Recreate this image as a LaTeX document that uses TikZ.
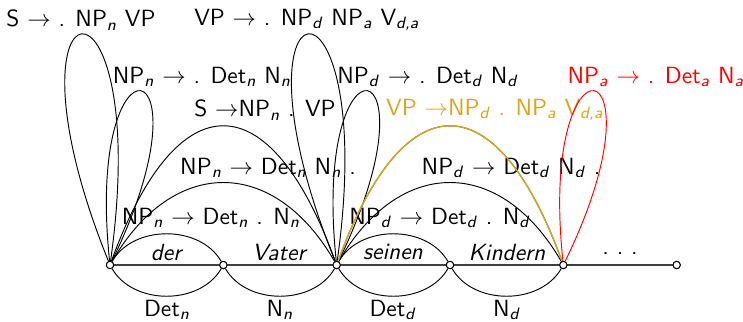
\documentclass[tikz,border=0pt]{standalone}
\newcommand{\ix}[1]{\textsubscript{\textit{#1}}}
\newcommand{\arr}{$\rightarrow$}
\definecolor{goldenrod}{RGB}{218,165,32}

\begin{document}
\begin{tikzpicture}[font=\sffamily,
  vertex/.style={circle, draw, fill=white, inner sep=0pt, minimum size=1.1mm},
  tall loop/.style={out=112, in=82, min distance=4.74cm},
  short loop/.style={out=96, in=64, min distance=3.6cm},
  wide arc/.style={bend left=70, looseness=2.2}]

\useasboundingbox (-1.65,-0.84) rectangle (9.495,3.975);

% chart vertices
\node[vertex] (n0) at (0,0) {};
\node[vertex] (n1) at (1.7,0) {};
\node[vertex] (n2) at (3.4,0) {};
\node[vertex] (n3) at (5.1,0) {};
\node[vertex] (n4) at (6.8,0) {};
\node[vertex] (n5) at (8.5,0) {};

\begin{scope}
\draw[semithick, black!75] (n0) -- (n1) -- (n2) -- (n3) -- (n4) -- (n5);

% words
\node (w1) at (0.855,0.195) {\textit{der}};
\node (w2) at (2.55,0.195) {\textit{Vater}};
\node (w3) at (4.245,0.195) {\textit{seinen}};
\node (w4) at (5.955,0.195) {\textit{Kindern}};
\node (w5) at (7.65,0.17) {.\ .\ .};

% lexical edges
\draw (n0) to[bend right=60] (n1);
\draw (n1) to[bend right=60] (n2);
\draw (n2) to[bend right=60] (n3);
\draw (n3) to[bend right=60] (n4);
\node (l1) at (0.855,-0.675) {Det\ix{n}};
\node (l2) at (2.55,-0.675) {N\ix{n}};
\node (l3) at (4.245,-0.675) {Det\ix{d}};
\node (l4) at (5.955,-0.675) {N\ix{d}};

\draw (n0) to[bend left=60] (n1);
\draw (n2) to[bend left=60] (n3);

% edges over NP_n
\draw (n0) to[bend left=60, looseness=1.4] (n2);
\draw (n0) to[wide arc] (n2);
\draw (n0) to[tall loop] (n0);
\draw (n0) to[short loop] (n0);
\node (e1) at (1.515,0.705) {NP\ix{n} \arr{} Det\ix{n} . N\ix{n}};
\node (e2) at (2.37,1.455) {NP\ix{n} \arr{} Det\ix{n} N\ix{n} .};
\node (e3) at (2.325,2.325) {S \arr{}NP\ix{n} . VP};
\node (e4) at (1.38,2.82) {NP\ix{n} \arr{} . Det\ix{n} N\ix{n}};
\node (e5) at (-0.435,3.675) {S \arr{} . NP\ix{n} VP};

% edges over NP_d
\draw (n2) to[bend left=60, looseness=1.4] (n4);
\draw (n2) to[wide arc] (n4);
\draw (n2) to[tall loop] (n2);
\draw (n2) to[short loop] (n2);
\node (e6) at (4.95,0.705) {NP\ix{d} \arr{} Det\ix{d} . N\ix{d}};
\node (e7) at (6.015,1.455) {NP\ix{d} \arr{} Det\ix{d} N\ix{d} .};
\node (e8) at (4.77,2.82) {NP\ix{d} \arr{} . Det\ix{d} N\ix{d}};
\node (e9) at (2.955,3.675) {VP \arr{} . NP\ix{d} NP\ix{a} V\ix{d,a}};

% current items
\draw[goldenrod, line width=0.6pt] (n2) to[wide arc] (n4);
\node[text=goldenrod] (e10) at (5.775,2.325) {VP \arr{}NP\ix{d} . NP\ix{a} V\ix{d,a}};
\draw[red] (n4) to[short loop] (n4);
\node[text=red] (e11) at (8.19,2.82) {NP\ix{a} \arr{} . Det\ix{a} N\ix{a}};
\end{scope}

% redraw vertices on top
\foreach \i in {0,...,5}
  \node[vertex] at (n\i) {};

\end{tikzpicture}
\end{document}
